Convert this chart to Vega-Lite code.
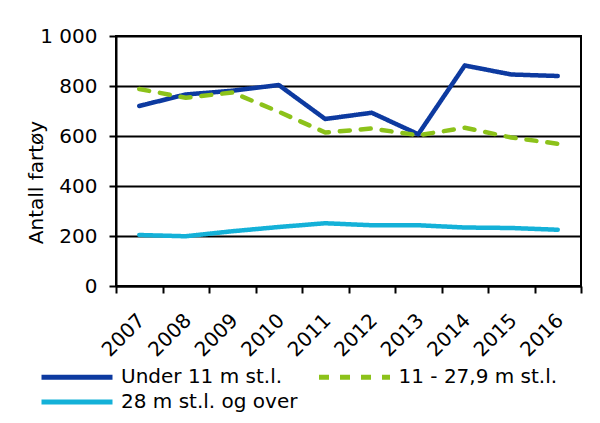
{
  "$schema": "https://vega.github.io/schema/vega-lite/v6.json",
  "width": 465,
  "height": 250,
  "autosize": {"type": "none"},
  "padding": {"left": 116, "top": 36, "right": 19, "bottom": 137},
  "background": "white",
  "config": {
    "font": "DejaVu Sans",
    "view": {"stroke": "black", "strokeWidth": 2},
    "axis": {"labelFont": "DejaVu Sans", "titleFont": "DejaVu Sans", "labelColor": "black", "titleColor": "black"}
  },
  "data": {
    "values": [
      {"year": "2007", "series": "Under 11 m st.l.", "value": 720},
      {"year": "2008", "series": "Under 11 m st.l.", "value": 766},
      {"year": "2009", "series": "Under 11 m st.l.", "value": 781},
      {"year": "2010", "series": "Under 11 m st.l.", "value": 804},
      {"year": "2011", "series": "Under 11 m st.l.", "value": 668},
      {"year": "2012", "series": "Under 11 m st.l.", "value": 693},
      {"year": "2013", "series": "Under 11 m st.l.", "value": 607},
      {"year": "2014", "series": "Under 11 m st.l.", "value": 882},
      {"year": "2015", "series": "Under 11 m st.l.", "value": 846},
      {"year": "2016", "series": "Under 11 m st.l.", "value": 840},
      {"year": "2007", "series": "11 - 27,9 m st.l.", "value": 788},
      {"year": "2008", "series": "11 - 27,9 m st.l.", "value": 753},
      {"year": "2009", "series": "11 - 27,9 m st.l.", "value": 774},
      {"year": "2010", "series": "11 - 27,9 m st.l.", "value": 697},
      {"year": "2011", "series": "11 - 27,9 m st.l.", "value": 614},
      {"year": "2012", "series": "11 - 27,9 m st.l.", "value": 630},
      {"year": "2013", "series": "11 - 27,9 m st.l.", "value": 603},
      {"year": "2014", "series": "11 - 27,9 m st.l.", "value": 633},
      {"year": "2015", "series": "11 - 27,9 m st.l.", "value": 594},
      {"year": "2016", "series": "11 - 27,9 m st.l.", "value": 569},
      {"year": "2007", "series": "28 m st.l. og over", "value": 204},
      {"year": "2008", "series": "28 m st.l. og over", "value": 199},
      {"year": "2009", "series": "28 m st.l. og over", "value": 219},
      {"year": "2010", "series": "28 m st.l. og over", "value": 236},
      {"year": "2011", "series": "28 m st.l. og over", "value": 251},
      {"year": "2012", "series": "28 m st.l. og over", "value": 243},
      {"year": "2013", "series": "28 m st.l. og over", "value": 243},
      {"year": "2014", "series": "28 m st.l. og over", "value": 234},
      {"year": "2015", "series": "28 m st.l. og over", "value": 232},
      {"year": "2016", "series": "28 m st.l. og over", "value": 225}
    ]
  },
  "mark": {"type": "line", "strokeWidth": 4.5, "strokeCap": "round", "strokeJoin": "round"},
  "encoding": {
    "x": {
      "field": "year",
      "type": "ordinal",
      "scale": {"type": "band", "paddingInner": 0, "paddingOuter": 0},
      "axis": {
        "title": null,
        "labelAngle": -45,
        "labelFontSize": 20,
        "labelPadding": 17,
        "labelOffset": -5,
        "tickBand": "extent",
        "tickSize": 7,
        "tickWidth": 2,
        "tickColor": "black",
        "domainColor": "black",
        "domainWidth": 2,
        "grid": false
      }
    },
    "y": {
      "field": "value",
      "type": "quantitative",
      "scale": {"domain": [0, 1000], "nice": false},
      "axis": {
        "title": "Antall fartøy",
        "titleFontSize": 20,
        "titleFontWeight": "normal",
        "titleAngle": 270,
        "titleBaseline": "alphabetic",
        "titleAlign": "center",
        "titleX": -74,
        "titleY": 146,
        "values": [0, 200, 400, 600, 800, 1000],
        "labelExpr": "replace(format(datum.value, ','), ',', ' ')",
        "labelFontSize": 20,
        "labelPadding": 12,
        "tickSize": 7,
        "tickWidth": 2,
        "tickColor": "black",
        "domainColor": "black",
        "domainWidth": 2,
        "grid": true,
        "gridColor": "black",
        "gridWidth": 2,
        "gridOpacity": 1
      }
    },
    "color": {
      "field": "series",
      "type": "nominal",
      "scale": {
        "domain": ["Under 11 m st.l.", "11 - 27,9 m st.l.", "28 m st.l. og over"],
        "range": ["#0d3aa0", "#8cc21a", "#14b1d8"]
      },
      "legend": {
        "title": null,
        "orient": "none",
        "legendX": -51.5,
        "legendY": 328.5,
        "columns": 2,
        "direction": "horizontal",
        "symbolType": "M-3.55,0H3.55",
        "symbolSize": 400,
        "symbolStrokeWidth": 5,
        "labelFontSize": 20,
        "labelColor": "black",
        "labelOffset": 31.5,
        "columnPadding": 11.5,
        "rowPadding": 2,
        "labelLimit": 400
      }
    },
    "strokeDash": {
      "field": "series",
      "type": "nominal",
      "scale": {
        "domain": ["Under 11 m st.l.", "11 - 27,9 m st.l.", "28 m st.l. og over"],
        "range": [[1, 0], [10, 11], [1, 0]]
      },
      "legend": null
    }
  }
}
